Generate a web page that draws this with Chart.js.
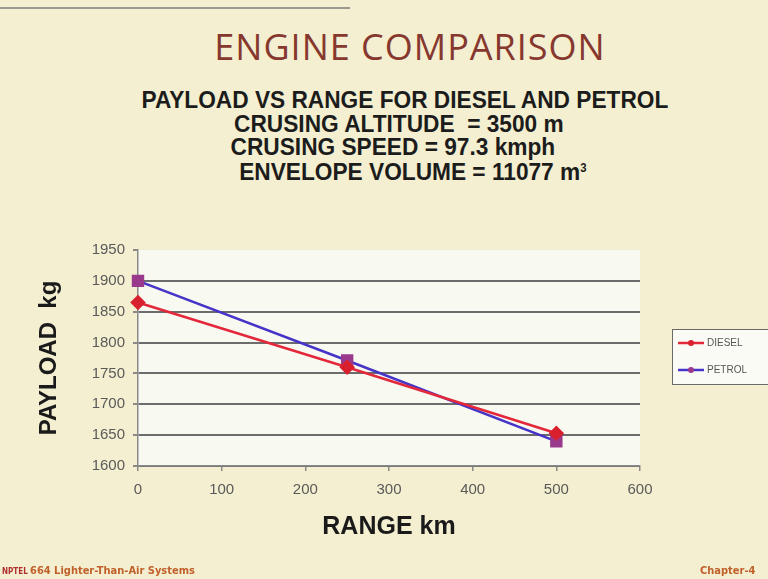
<!DOCTYPE html>
<html>
<head>
<meta charset="utf-8">
<script src="https://cdn.jsdelivr.net/npm/chart.js@4.4.1/dist/chart.umd.min.js"></script>
<style>
  html, body { margin: 0; padding: 0; }
  body { width: 768px; height: 579px; background: #f3efd0; position: relative; overflow: hidden; font-family: "Liberation Sans", Arial, sans-serif; }
  #chartWrap { position: absolute; left: 0; top: 0; width: 768px; height: 579px; }
  .topline { position: absolute; left: 0; top: 7px; width: 350px; height: 2px; background: #9a9a90; }
  .title { position: absolute; left: 26px; width: 768px; top: 22px; text-align: center; font-family: "Open Sans", Lato, sans-serif; font-size: 36px; letter-spacing: 1px; color: #86382f; }
  .sub { position: absolute; left: 0; width: 768px; text-align: center; font-family: "Liberation Sans", Arial, sans-serif; font-weight: bold; font-size: 24px; color: #1c1c1c; line-height: 24px; transform: scaleX(0.945); transform-origin: 400px 0; }
  .sub sup { font-size: 12px; vertical-align: 8px; }
  .foot { position: absolute; top: 564px; font-family: "DejaVu Sans Condensed", "DejaVu Sans", sans-serif; font-weight: bold; font-size: 11px; color: #c0602a; }
</style>
</head>
<body>
<div class="topline"></div>
<div class="title">ENGINE COMPARISON</div>
<div class="sub" style="top:88px; left:20px;">PAYLOAD VS RANGE FOR DIESEL AND PETROL</div>
<div class="sub" style="top:112px; left:14px;">CRUSING ALTITUDE&nbsp; = 3500 m</div>
<div class="sub" style="top:135px; left:8px;">CRUSING SPEED = 97.3 kmph</div>
<div class="sub" style="top:156px; left:28px;">ENVELOPE VOLUME = 11077 m<sup>3</sup></div>
<div id="chartWrap"><canvas id="payloadChart" width="768" height="579"></canvas></div>
<div class="foot" style="left:2px; color:#b03030; font-size:8px; top:567px;">NPTEL</div>
<div class="foot" style="left:30px;">664 Lighter-Than-Air Systems</div>
<div class="foot" style="left:700px;">Chapter-4</div>
<script>
const seriesNames = ["DIESEL", "PETROL"];
const rangeKm = [0, 250, 500];
const dieselPayload = [1865, 1760, 1653];
const petrolPayload = [1900, 1771, 1640];
const xTicks = [0, 100, 200, 300, 400, 500, 600];
const yTicks = [1600, 1650, 1700, 1750, 1800, 1850, 1900, 1950];

document.addEventListener("DOMContentLoaded", function () {
  const ctx = document.getElementById("payloadChart").getContext("2d");

  // light plot area fill
  const plotBg = {
    id: "plotBg",
    beforeDraw(chart) {
      const a = chart.chartArea;
      const c = chart.ctx;
      c.save();
      c.fillStyle = "#f8f9f0";
      c.fillRect(a.left, a.top, a.right - a.left, a.bottom - a.top);
      c.restore();
    }
  };

  // boxed legend at the right, cut by the page edge like the slide
  const sideLegend = {
    id: "sideLegend",
    afterDraw(chart) {
      const c = chart.ctx;
      c.save();
      c.fillStyle = "#fbfbf6";
      c.strokeStyle = "#6a6a6a";
      c.lineWidth = 1;
      c.fillRect(672, 329, 110, 55);
      c.strokeRect(672.5, 329.5, 110, 55);
      chart.data.datasets.forEach((ds, i) => {
        const y = 343 + i * 27;
        c.strokeStyle = ds.borderColor;
        c.lineWidth = 2.5;
        c.beginPath();
        c.moveTo(678, y);
        c.lineTo(704, y);
        c.stroke();
        c.fillStyle = ds.pointBackgroundColor;
        c.beginPath();
        c.arc(691, y, 3, 0, Math.PI * 2);
        c.fill();
        c.fillStyle = "#555";
        c.font = "10px 'Liberation Sans', Arial, sans-serif";
        c.textBaseline = "middle";
        c.fillText(ds.label, 707, y);
      });
      c.restore();
    }
  };

  const tickFont = { family: "'Liberation Sans', Arial", size: 15 };

  const chart = new Chart(ctx, {
    type: "line",
    data: {
      datasets: [
        {
          label: seriesNames[0],
          data: rangeKm.map((x, i) => ({ x: x, y: dieselPayload[i] })),
          borderColor: "#e2283a",
          backgroundColor: "#e2283a",
          pointBackgroundColor: "#d8202e",
          pointBorderColor: "#d8202e",
          pointStyle: "rectRot",
          pointRadius: 6,
          borderWidth: 2.5,
          tension: 0,
          clip: false
        },
        {
          label: seriesNames[1],
          data: rangeKm.map((x, i) => ({ x: x, y: petrolPayload[i] })),
          borderColor: "#4634c8",
          backgroundColor: "#4634c8",
          pointBackgroundColor: "#9a3a8c",
          pointBorderColor: "#9a3a8c",
          pointStyle: "rect",
          pointRadius: 7,
          borderWidth: 2.5,
          tension: 0,
          clip: false
        }
      ]
    },
    options: {
      responsive: false,
      animation: false,
      layout: { padding: { left: 0, right: 128, top: 250, bottom: 0 } },
      plugins: {
        legend: { display: false },
        tooltip: { enabled: false }
      },
      scales: {
        x: {
          type: "linear",
          min: xTicks[0],
          max: xTicks[xTicks.length - 1],
          afterBuildTicks: s => { s.ticks = xTicks.map(v => ({ value: v })); },
          afterFit: s => { s.height = 113; },
          grid: { drawOnChartArea: false, tickLength: 5, tickColor: "#8a8a8a", lineWidth: 1.5 },
          border: { color: "#8a8a8a", width: 1.5 },
          ticks: { color: "#5a5a5a", padding: 10, font: tickFont, callback: v => String(v) },
          title: {
            display: true,
            text: "RANGE km",
            color: "#1a1a1a",
            font: { family: "'Liberation Sans', Arial", size: 25, weight: "bold" },
            padding: { top: 0, bottom: 37 }
          }
        },
        y: {
          min: yTicks[0],
          max: yTicks[yTicks.length - 1],
          afterBuildTicks: s => { s.ticks = yTicks.map(v => ({ value: v })); },
          afterFit: s => { s.width = 138; },
          grid: {
            color: c => (c.tick && c.tick.value === yTicks[yTicks.length - 1]) ? "rgba(0,0,0,0)" : "#6c6c6c",
            lineWidth: 2,
            tickLength: 5,
            tickColor: "#8a8a8a"
          },
          border: { color: "#8a8a8a", width: 1.5 },
          ticks: { color: "#5a5a5a", padding: 8, font: tickFont, callback: v => String(v) },
          title: {
            display: true,
            text: "PAYLOAD  kg",
            color: "#1a1a1a",
            font: { family: "'Liberation Sans', Arial", size: 24, weight: "bold" },
            padding: { top: 35, bottom: 0 }
          }
        }
      }
    },
    plugins: [plotBg, sideLegend]
  });
});
</script>
</body>
</html>
